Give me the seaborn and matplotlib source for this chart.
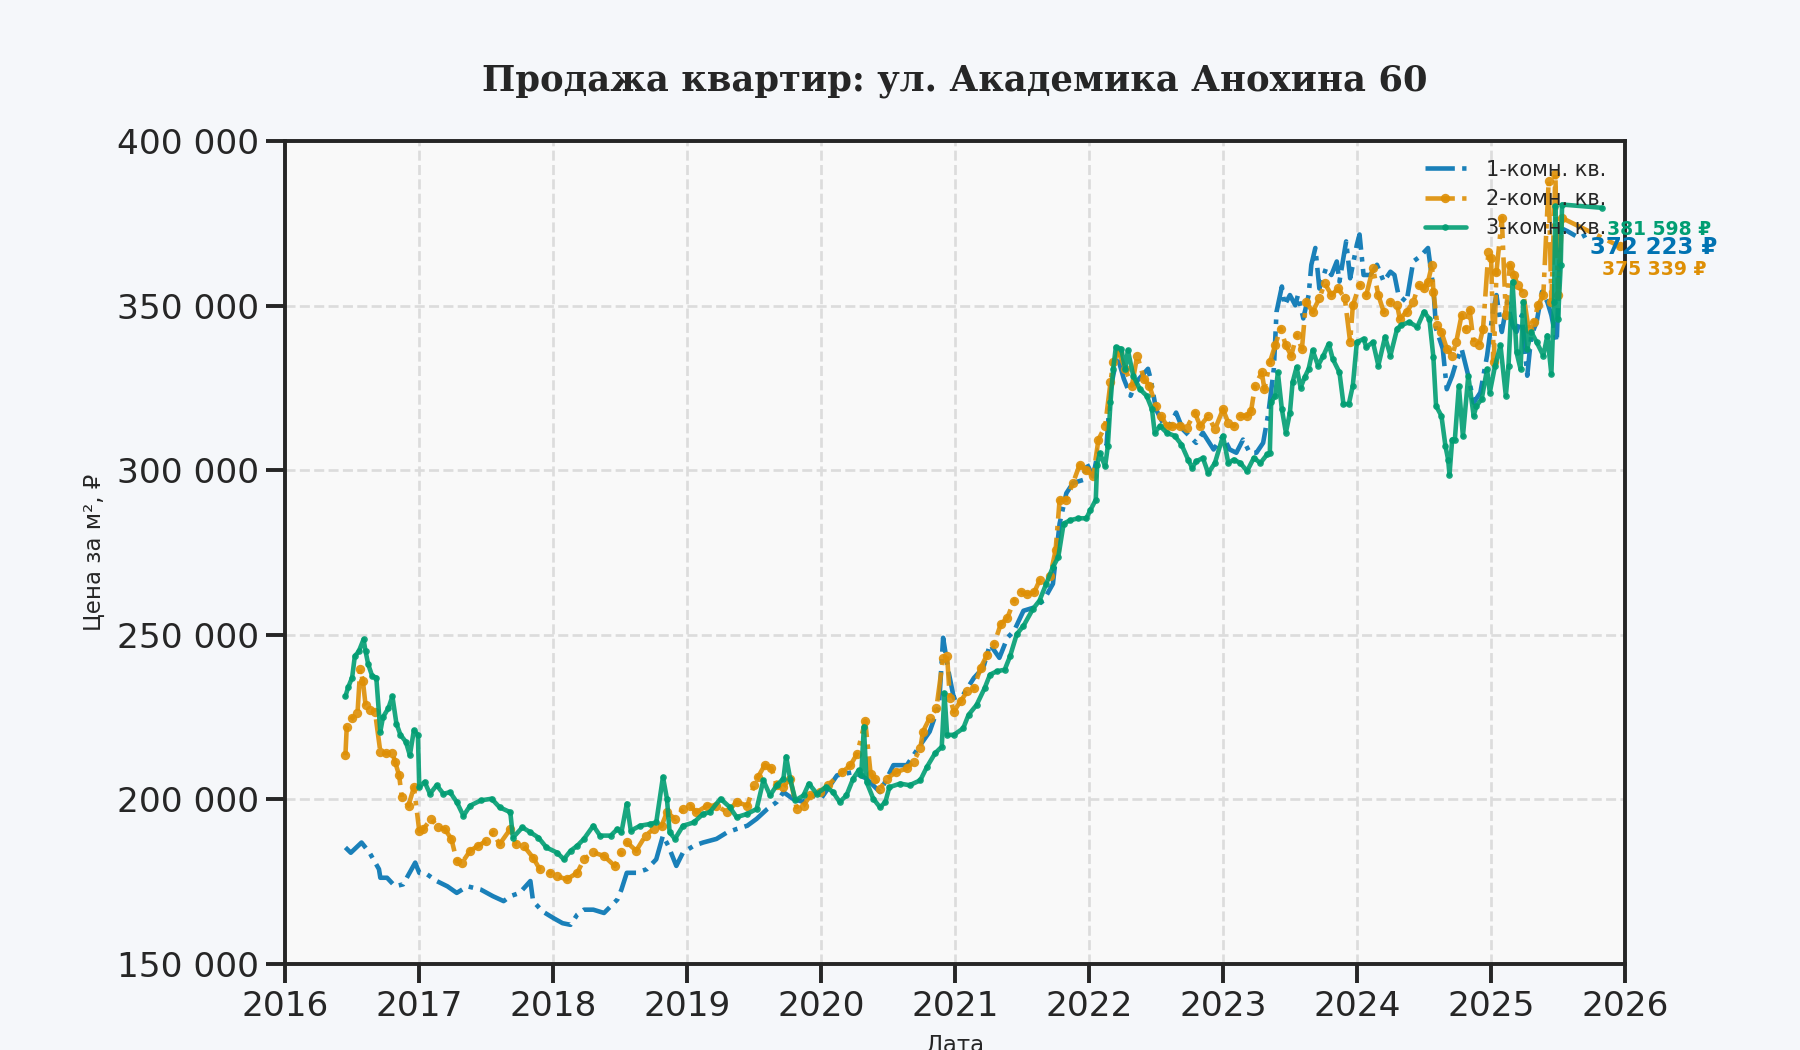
import numpy as np
import pandas as pd
import seaborn as sns
import matplotlib
matplotlib.use("Agg")
import matplotlib.pyplot as plt
import matplotlib.dates as mdates
from matplotlib.ticker import FuncFormatter

sns.set_theme(context="talk", style="ticks")
plt.rcParams["font.family"] = ["DejaVu Sans"]

# values: decimal year / price in thousands of rubles per m2
years_1k = [
    2016.45, 2016.49, 2016.57, 2016.63, 2016.70, 2016.71, 2016.76, 2016.82, 2016.88, 2016.97,
    2017.00, 2017.06, 2017.13, 2017.21, 2017.28, 2017.36, 2017.46, 2017.55, 2017.63, 2017.68,
    2017.75, 2017.83, 2017.85, 2017.92, 2018.00, 2018.07, 2018.13, 2018.18, 2018.23, 2018.30,
    2018.38, 2018.48, 2018.51, 2018.55, 2018.62, 2018.70, 2018.77, 2018.82, 2018.86, 2018.92,
    2018.97, 2019.05, 2019.12, 2019.22, 2019.30, 2019.37, 2019.45, 2019.52, 2019.60, 2019.67,
    2019.72, 2019.79, 2019.87, 2019.94, 2020.00, 2020.12, 2020.24, 2020.34, 2020.44, 2020.54,
    2020.64, 2020.74, 2020.81, 2020.88, 2020.91, 2020.95, 2020.99, 2021.06, 2021.14, 2021.21,
    2021.26, 2021.33, 2021.39, 2021.44, 2021.51, 2021.59, 2021.66, 2021.73, 2021.78, 2021.83,
    2021.88, 2021.96, 2021.98, 2022.03, 2022.07, 2022.13, 2022.16, 2022.21, 2022.26, 2022.31,
    2022.35, 2022.44, 2022.46, 2022.50, 2022.55, 2022.60, 2022.65, 2022.70, 2022.80, 2022.85,
    2022.93, 2023.00, 2023.05, 2023.10, 2023.15, 2023.20, 2023.25, 2023.30, 2023.34, 2023.38,
    2023.40, 2023.44, 2023.46, 2023.50, 2023.54, 2023.56, 2023.60, 2023.64, 2023.66, 2023.69,
    2023.72, 2023.77, 2023.81, 2023.85, 2023.87, 2023.92, 2023.95, 2024.00, 2024.02, 2024.05,
    2024.10, 2024.15, 2024.20, 2024.25, 2024.28, 2024.31, 2024.37, 2024.42, 2024.47, 2024.53,
    2024.57, 2024.59, 2024.64, 2024.67, 2024.71, 2024.74, 2024.78, 2024.83, 2024.87, 2024.92,
    2024.97, 2025.01, 2025.04, 2025.08, 2025.12, 2025.16, 2025.19, 2025.23, 2025.27, 2025.30,
    2025.34, 2025.38, 2025.42, 2025.45, 2025.49, 2025.52, 2025.57, 2025.66, 2025.74,
]
price_1k = [
    185.4, 183.8, 186.9, 183.8, 178.8, 176.2, 176.2, 173.6, 174.2, 180.8,
    177.7, 177.2, 175.2, 173.6, 171.6, 173.6, 172.6, 170.6, 169.1, 170.6,
    171.6, 175.2, 169.1, 166.0, 164.0, 162.4, 161.9, 165.0, 166.5, 166.5,
    165.5, 169.6, 172.6, 177.7, 177.7, 178.8, 181.8, 189.0, 185.9, 179.8,
    183.9, 185.9, 186.9, 188.0, 190.0, 191.0, 192.0, 194.1, 197.1, 199.2,
    202.2, 200.2, 199.2, 201.2, 200.2, 207.3, 208.3, 206.3, 202.2, 210.4,
    210.4, 216.5, 220.6, 228.7, 249.1, 238.9, 230.8, 231.8, 236.9, 240.0,
    247.1, 243.0, 249.1, 251.2, 257.3, 258.3, 260.4, 265.5, 283.8, 293.0,
    296.1, 297.1, 302.2, 298.1, 306.3, 307.3, 324.6, 334.8, 327.7, 322.6,
    326.7, 330.8, 327.7, 318.5, 314.4, 313.4, 317.5, 312.4, 308.3, 311.4,
    306.3, 310.4, 306.3, 305.3, 309.3, 305.3, 305.3, 308.3, 317.5, 330.8,
    348.1, 355.8, 350.1, 353.2, 350.1, 353.2, 346.1, 353.2, 362.4, 367.5,
    355.2, 361.4, 359.3, 363.4, 357.3, 369.5, 358.3, 368.5, 371.6, 359.3,
    359.3, 362.4, 357.3, 360.3, 359.3, 353.2, 351.1, 363.4, 364.9, 367.5,
    355.2, 343.0, 336.9, 324.6, 328.7, 332.8, 336.9, 328.7, 320.5, 323.6,
    334.8, 347.1, 353.2, 342.0, 351.1, 344.0, 342.0, 347.1, 328.7, 340.9,
    345.0, 354.2, 351.1, 347.1, 338.9, 373.6, 372.6, 370.5, 372.2,
]

years_2k = [
    2016.45, 2016.46, 2016.50, 2016.54, 2016.56, 2016.58, 2016.60, 2016.63, 2016.67, 2016.71,
    2016.75, 2016.80, 2016.82, 2016.85, 2016.87, 2016.92, 2016.96, 2017.00, 2017.03, 2017.09,
    2017.14, 2017.19, 2017.24, 2017.28, 2017.32, 2017.38, 2017.44, 2017.50, 2017.55, 2017.60,
    2017.68, 2017.72, 2017.78, 2017.85, 2017.90, 2017.98, 2018.03, 2018.10, 2018.18, 2018.23,
    2018.30, 2018.38, 2018.46, 2018.51, 2018.55, 2018.62, 2018.69, 2018.75, 2018.81, 2018.85,
    2018.91, 2018.97, 2019.02, 2019.07, 2019.15, 2019.22, 2019.30, 2019.37, 2019.45, 2019.50,
    2019.53, 2019.58, 2019.63, 2019.67, 2019.72, 2019.77, 2019.82, 2019.87, 2019.92, 2019.99,
    2020.05, 2020.16, 2020.22, 2020.27, 2020.33, 2020.37, 2020.40, 2020.44, 2020.49, 2020.56,
    2020.64, 2020.69, 2020.74, 2020.76, 2020.81, 2020.86, 2020.91, 2020.94, 2020.96, 2020.99,
    2021.04, 2021.09, 2021.14, 2021.19, 2021.24, 2021.29, 2021.34, 2021.39, 2021.44, 2021.49,
    2021.54, 2021.59, 2021.63, 2021.71, 2021.75, 2021.78, 2021.83, 2021.88, 2021.93, 2021.98,
    2022.03, 2022.07, 2022.12, 2022.16, 2022.18, 2022.22, 2022.27, 2022.32, 2022.36, 2022.41,
    2022.45, 2022.50, 2022.54, 2022.58, 2022.62, 2022.68, 2022.73, 2022.79, 2022.83, 2022.89,
    2022.94, 2023.00, 2023.04, 2023.08, 2023.13, 2023.18, 2023.21, 2023.24, 2023.29, 2023.31,
    2023.35, 2023.39, 2023.43, 2023.47, 2023.51, 2023.55, 2023.59, 2023.62, 2023.67, 2023.72,
    2023.76, 2023.81, 2023.86, 2023.91, 2023.95, 2023.97, 2024.02, 2024.07, 2024.12, 2024.16,
    2024.20, 2024.25, 2024.30, 2024.32, 2024.37, 2024.42, 2024.46, 2024.50, 2024.53, 2024.56,
    2024.57, 2024.60, 2024.63, 2024.67, 2024.71, 2024.74, 2024.78, 2024.81, 2024.84, 2024.87,
    2024.91, 2024.94, 2024.98, 2025.00, 2025.02, 2025.04, 2025.08, 2025.11, 2025.14, 2025.17,
    2025.20, 2025.24, 2025.28, 2025.32, 2025.35, 2025.39, 2025.43, 2025.45, 2025.48, 2025.50,
    2025.53, 2025.96,
]
price_2k = [
    213.4, 222.1, 224.7, 226.2, 239.5, 236.0, 228.7, 227.2, 226.7, 214.5,
    214.0, 214.0, 211.4, 207.3, 200.7, 198.1, 203.7, 190.5, 191.0, 194.1,
    191.5, 191.0, 188.0, 181.3, 180.8, 184.4, 185.9, 187.4, 190.0, 186.4,
    191.0, 186.4, 185.9, 182.3, 178.8, 177.7, 176.7, 175.7, 177.7, 181.8,
    183.9, 182.8, 179.8, 183.9, 187.0, 184.4, 189.0, 191.0, 192.0, 196.1,
    194.1, 197.1, 198.1, 196.1, 198.1, 198.1, 196.1, 199.2, 198.1, 204.3,
    206.8, 210.4, 209.4, 204.3, 203.8, 206.3, 197.1, 198.1, 201.2, 202.2,
    204.3, 208.3, 210.4, 213.9, 223.8, 207.8, 206.3, 203.2, 206.3, 208.3,
    209.4, 211.4, 215.5, 220.6, 224.7, 227.7, 243.0, 243.5, 230.8, 226.7,
    229.8, 232.8, 233.8, 240.0, 244.0, 247.1, 253.2, 255.2, 260.4, 262.9,
    262.4, 262.9, 266.5, 268.0, 275.7, 291.0, 291.0, 296.1, 301.7, 300.1,
    298.1, 309.3, 313.4, 326.7, 332.8, 335.9, 330.8, 325.7, 334.8, 327.7,
    325.7, 319.5, 316.5, 313.4, 313.4, 313.4, 312.9, 317.5, 313.4, 316.5,
    312.4, 318.5, 314.4, 313.4, 316.5, 316.5, 318.0, 325.7, 329.7, 324.6,
    332.8, 337.9, 343.0, 337.9, 334.8, 341.0, 336.9, 351.2, 348.1, 352.2,
    356.8, 353.2, 355.2, 352.2, 338.9, 350.1, 356.3, 353.2, 361.4, 353.2,
    348.1, 351.1, 350.1, 346.0, 348.1, 351.1, 356.2, 355.2, 357.3, 362.4,
    354.2, 344.0, 342.0, 336.9, 334.8, 338.9, 347.1, 343.0, 348.6, 338.9,
    337.9, 343.0, 366.4, 364.4, 332.8, 360.3, 376.6, 347.1, 362.4, 359.3,
    356.2, 353.7, 343.0, 345.0, 350.1, 353.2, 387.9, 351.1, 390.0, 353.2,
    376.6, 368.0,
]

years_3k = [
    2016.45, 2016.47, 2016.50, 2016.52, 2016.55, 2016.585, 2016.60, 2016.62, 2016.65, 2016.68,
    2016.71, 2016.73, 2016.77, 2016.80, 2016.83, 2016.86, 2016.90, 2016.93, 2016.96, 2016.99,
    2017.00, 2017.04, 2017.08, 2017.13, 2017.18, 2017.23, 2017.28, 2017.33, 2017.38, 2017.46,
    2017.54, 2017.60, 2017.68, 2017.70, 2017.77, 2017.83, 2017.89, 2017.95, 2018.03, 2018.08,
    2018.13, 2018.18, 2018.23, 2018.30, 2018.35, 2018.43, 2018.48, 2018.51, 2018.55, 2018.58,
    2018.65, 2018.72, 2018.77, 2018.82, 2018.85, 2018.87, 2018.91, 2018.97, 2019.05, 2019.12,
    2019.17, 2019.25, 2019.32, 2019.37, 2019.45, 2019.52, 2019.57, 2019.62, 2019.67, 2019.72,
    2019.74, 2019.77, 2019.81, 2019.87, 2019.91, 2019.97, 2020.04, 2020.09, 2020.14, 2020.19,
    2020.24, 2020.28, 2020.30, 2020.32, 2020.34, 2020.39, 2020.44, 2020.48, 2020.51, 2020.59,
    2020.66, 2020.74, 2020.79, 2020.85, 2020.90, 2020.92, 2020.94, 2020.99, 2021.06, 2021.10,
    2021.16, 2021.22, 2021.26, 2021.31, 2021.37, 2021.41, 2021.46, 2021.51, 2021.58, 2021.63,
    2021.68, 2021.73, 2021.77, 2021.81, 2021.86, 2021.92, 2021.98, 2022.01, 2022.05, 2022.06,
    2022.08, 2022.12, 2022.14, 2022.16, 2022.18, 2022.20, 2022.24, 2022.27, 2022.29, 2022.33,
    2022.38, 2022.43, 2022.47, 2022.49, 2022.53, 2022.58, 2022.64, 2022.69, 2022.74, 2022.77,
    2022.80, 2022.85, 2022.89, 2022.94, 2023.00, 2023.04, 2023.08, 2023.13, 2023.18, 2023.23,
    2023.28, 2023.33, 2023.35, 2023.36, 2023.39, 2023.41, 2023.44, 2023.47, 2023.50, 2023.52,
    2023.55, 2023.58, 2023.61, 2023.64, 2023.67, 2023.71, 2023.75, 2023.79, 2023.82, 2023.87,
    2023.90, 2023.94, 2023.97, 2024.00, 2024.05, 2024.07, 2024.12, 2024.16, 2024.21, 2024.25,
    2024.30, 2024.33, 2024.39, 2024.45, 2024.50, 2024.54, 2024.57, 2024.59, 2024.63, 2024.66,
    2024.68, 2024.69, 2024.71, 2024.73, 2024.76, 2024.79, 2024.83, 2024.87, 2024.89, 2024.93,
    2024.97, 2024.99, 2025.03, 2025.07, 2025.11, 2025.13, 2025.16, 2025.19, 2025.22, 2025.24,
    2025.27, 2025.30, 2025.34, 2025.39, 2025.42, 2025.45, 2025.47, 2025.48, 2025.50, 2025.52,
    2025.53, 2025.83,
]
price_3k = [
    231.3, 234.0, 237.0, 243.5, 245.0, 248.6, 245.0, 241.0, 237.4, 237.0,
    220.6, 225.0, 227.7, 231.3, 223.0, 219.6, 217.5, 213.4, 221.0, 219.6,
    203.7, 205.3, 201.7, 204.3, 201.7, 202.2, 199.2, 195.0, 198.1, 199.7,
    200.2, 197.6, 196.1, 188.4, 191.5, 190.0, 188.4, 185.4, 183.8, 181.8,
    184.4, 185.9, 188.0, 192.0, 189.0, 189.0, 191.0, 190.0, 198.7, 190.5,
    192.0, 192.5, 193.0, 206.8, 200.2, 190.0, 188.0, 192.0, 193.0, 195.6,
    196.1, 200.2, 197.6, 194.6, 195.6, 197.1, 205.8, 201.2, 204.3, 206.3,
    213.0, 206.3, 199.7, 201.2, 204.8, 201.7, 203.8, 202.2, 199.2, 201.2,
    206.3, 208.8, 207.3, 222.1, 205.3, 200.2, 197.6, 199.2, 203.7, 204.8,
    204.3, 205.8, 209.9, 214.0, 216.0, 232.3, 219.6, 219.6, 221.6, 225.7,
    228.7, 233.8, 237.9, 238.9, 239.4, 243.5, 250.2, 252.7, 257.8, 260.4,
    265.5, 270.6, 273.6, 283.8, 284.8, 285.4, 285.4, 287.9, 291.0, 301.7,
    305.2, 301.2, 307.3, 320.6, 330.7, 337.4, 336.9, 330.8, 336.4, 328.7,
    324.6, 322.6, 318.5, 311.4, 313.4, 311.4, 310.4, 307.8, 303.2, 300.7,
    302.7, 303.7, 299.1, 302.2, 310.4, 302.2, 303.2, 302.2, 299.7, 303.7,
    302.2, 304.8, 305.3, 320.6, 322.6, 329.7, 318.5, 311.4, 317.5, 326.7,
    331.3, 325.1, 328.2, 330.8, 336.4, 331.8, 334.8, 338.4, 333.8, 329.7,
    320.1, 320.1, 325.7, 338.9, 339.9, 337.4, 338.9, 331.8, 340.5, 334.8,
    343.0, 344.0, 345.0, 343.5, 348.1, 346.0, 334.3, 319.5, 316.5, 307.3,
    303.2, 298.6, 309.3, 309.3, 325.6, 310.3, 328.7, 316.5, 319.5, 321.6,
    330.7, 323.6, 331.8, 337.9, 322.6, 331.8, 357.3, 335.8, 330.7, 351.1,
    336.9, 342.0, 338.9, 334.8, 340.9, 329.2, 351.1, 380.2, 346.0, 362.4,
    380.7, 379.7,
]

labels = ["1-комн. кв.", "2-комн. кв.", "3-комн. кв."]
last_prices = [372223, 375339, 381598]


def to_dates(years):
    out = []
    for y in years:
        yr = int(y)
        start = pd.Timestamp(yr, 1, 1)
        out.append(start + (pd.Timestamp(yr + 1, 1, 1) - start) * (y - yr))
    return out


colors = ["#0173b2", "#de8f05", "#029e73"]
linestyles = ["-.", "-.", "-"]
markers = [None, "o", "o"]
msizes = [0, 4.5, 3.2]
label_sizes = [11, 9, 9]
label_offsets = [(0, -7), (-8.6, -11.3), (2.4, -10.2)]

fig, ax = plt.subplots(figsize=(12, 7), dpi=150)
fig.patch.set_facecolor("#f5f7fa")
ax.set_facecolor("#f9f9f9")
ax.set_position([285 / 1800, 1 - 964 / 1050, 1340 / 1800, 823 / 1050])

all_years = [years_1k, years_2k, years_3k]
all_prices = [price_1k, price_2k, price_3k]

for i in range(3):
    df = pd.DataFrame({"date": to_dates(all_years[i]),
                       "price": np.array(all_prices[i]) * 1000})
    sns.lineplot(data=df, x="date", y="price", ax=ax, estimator=None, sort=False,
                 color=colors[i], linestyle=linestyles[i], marker=markers[i],
                 markersize=msizes[i], markeredgewidth=0, linewidth=2.2,
                 alpha=0.9, label=labels[i])
    txt = f"{last_prices[i]:,}".replace(",", " ") + " ₽"
    ax.annotate(txt, xy=(df["date"].iloc[-1], df["price"].iloc[-1]),
                xytext=label_offsets[i], textcoords="offset points",
                ha="left", va="center", color=colors[i], fontsize=label_sizes[i],
                fontweight="bold", annotation_clip=False)

ax.set_xlim(pd.Timestamp(2016, 1, 1), pd.Timestamp(2026, 1, 1))
ax.set_ylim(150000, 400000)
ax.set_yticks(np.arange(150000, 400001, 50000))
ax.yaxis.set_major_formatter(FuncFormatter(lambda v, p: f"{v:,.0f}".replace(",", " ")))
ax.xaxis.set_major_locator(mdates.YearLocator())
ax.xaxis.set_major_formatter(mdates.DateFormatter("%Y"))

ax.grid(True, linestyle="--", color="#dcdcdc", linewidth=1.3)
ax.set_axisbelow(True)

ax.set_title("Продажа квартир: ул. Академика Анохина 60", fontsize=17,
             fontweight="bold", family="DejaVu Serif", pad=24)
ax.set_ylabel("Цена за м², ₽", fontsize=11, labelpad=5)
ax.set_xlabel("Дата", fontsize=11, labelpad=5)

ax.legend(loc="upper right", frameon=False, fontsize=10, handlelength=2.0,
          handletextpad=0.95, labelspacing=0.45)

fig.savefig("out.png", dpi=150, facecolor=fig.get_facecolor())
